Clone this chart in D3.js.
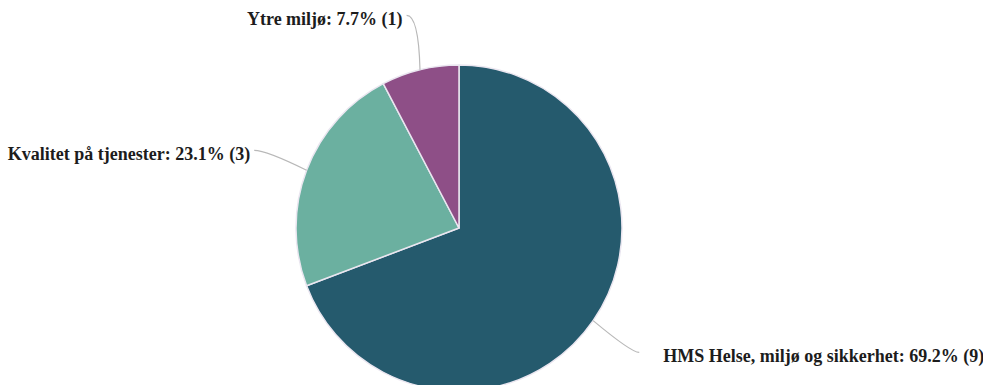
<!DOCTYPE html>
<html>
<head>
<meta charset="utf-8">
<script src="https://cdn.jsdelivr.net/npm/d3@7"></script>
<style>
  html, body { margin: 0; padding: 0; background: #fff; overflow: hidden; }
  svg { display: block; }
  .lbl { font-family: "Liberation Serif", "Times New Roman", serif; font-weight: bold; font-size: 18px; fill: #1c1c1c; }
</style>
</head>
<body>
<svg id="chart" width="983" height="385"></svg>
<script>
// data
const categories = ["HMS Helse, miljø og sikkerhet", "Kvalitet på tjenester", "Ytre miljø"];
const counts = [9, 3, 1];
const colors = ["#255a6d", "#6bb0a0", "#8e4f87"];

const width = 983, height = 385;
const cx = 459, cy = 228, radius = 163;
const labelRadius = 219;

const svg = d3.select("#chart");
const g = svg.append("g").attr("transform", "translate(" + cx + "," + cy + ")");

const total = d3.sum(counts);
const slices = categories.map((c, i) => ({ name: c, value: counts[i], color: colors[i] }));

const pie = d3.pie().sort(null).value(d => d.value);
const arc = d3.arc().innerRadius(0).outerRadius(radius);
const arcs = pie(slices);

g.selectAll("path.slice")
    .data(arcs)
    .enter().append("path")
    .attr("class", "slice")
    .attr("d", arc)
    .attr("fill", d => d.data.color)
    .attr("stroke", "#eae6f0")
    .attr("stroke-width", 1.5);

function polar(r, a) {
    return [r * Math.sin(a), -r * Math.cos(a)];
}

arcs.forEach(d => {
    const mid = (d.startAngle + d.endAngle) / 2;
    const edge = polar(radius, mid);
    const end = polar(labelRadius, mid);
    const right = Math.sin(mid) > 0;
    const ctrl = [end[0] + (right ? -8 : 12), end[1]];

    g.append("path")
        .attr("d", "M" + edge[0] + "," + edge[1] + " Q" + ctrl[0] + "," + ctrl[1] + " " + end[0] + "," + end[1])
        .attr("fill", "none")
        .attr("stroke", "#b8b8b8")
        .attr("stroke-width", 1.2);

    const pct = (d.data.value / total * 100).toFixed(1);
    g.append("text")
        .attr("class", "lbl")
        .attr("x", end[0] + (right ? 24 : -4))
        .attr("y", end[1] + 10)
        .attr("text-anchor", right ? "start" : "end")
        .text(d.data.name + ": " + pct + "% (" + d.data.value + ")");
});
</script>
</body>
</html>
